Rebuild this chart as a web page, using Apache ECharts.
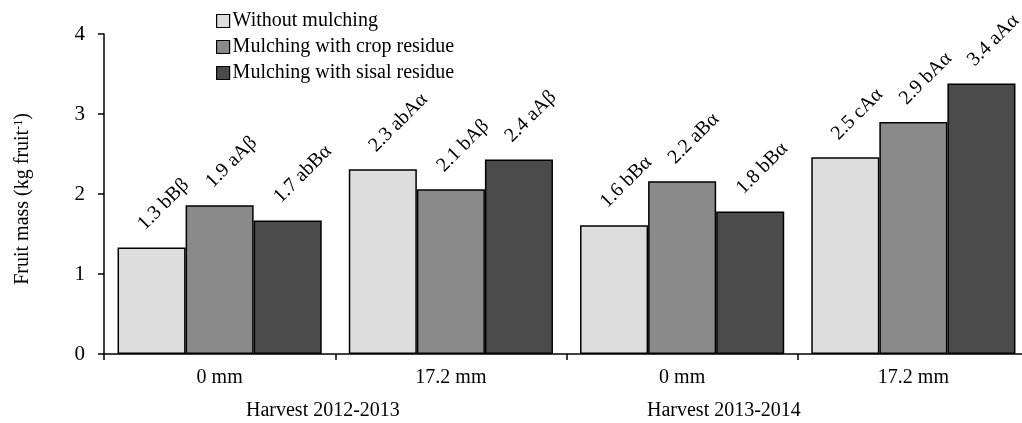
<!DOCTYPE html>
<html>
<head>
<meta charset="utf-8">
<script src="https://cdn.jsdelivr.net/npm/echarts@6/dist/echarts.min.js"></script>
<style>
  html, body { margin: 0; padding: 0; background: #fff; }
  #chart { width: 1022px; height: 423px; }
</style>
</head>
<body>
<div id="chart"></div>
<script>
// Irrigation depth within each harvest
const categories = ['0 mm', '17.2 mm', '0 mm', '17.2 mm'];
const harvests = ['Harvest 2012-2013', 'Harvest 2013-2014'];

const seriesNames = ['Without mulching', 'Mulching with crop residue', 'Mulching with sisal residue'];

// Mean fruit mass (kg fruit-1)
const withoutMulching = [1.33, 2.31, 1.61, 2.46];
const cropResidue = [1.86, 2.06, 2.16, 2.90];
const sisalResidue = [1.67, 2.43, 1.78, 3.38];

// Mean-comparison letters shown after each value
const withoutLetters = ['bBβ', 'abAα', 'bBα', 'cAα'];
const cropLetters = ['aAβ', 'bAβ', 'aBα', 'bAα'];
const sisalLetters = ['abBα', 'aAβ', 'bBα', 'aAα'];

const yTicks = [0, 1, 2, 3, 4];

const FONT = '"Liberation Serif", "Times New Roman", serif';
const fills = ['#dddddd', '#8a8a8a', '#4b4b4b'];

const chart = echarts.init(document.getElementById('chart'), null, { renderer: 'canvas' });

function barSeries(name, values, letters, color) {
  return {
    name: name,
    type: 'bar',
    data: values,
    barGap: '0%',
    barCategoryGap: '11.7%',
    itemStyle: { color: color, borderColor: '#000', borderWidth: 1.5 },
    label: {
      show: true,
      position: 'top',
      distance: 0,
      rotate: 45,
      align: 'left',
      verticalAlign: 'bottom',
      offset: [7, -12],
      fontFamily: FONT,
      fontSize: 20,
      color: '#000',
      formatter: p => values[p.dataIndex].toFixed(1) + ' ' + letters[p.dataIndex]
    },
    emphasis: { disabled: true },
    animation: false
  };
}

chart.setOption({
  animation: false,
  grid: { left: 104, right: -7, top: 34, bottom: 69, containLabel: false, outerBoundsMode: 'none' },
  legend: {
    orient: 'vertical',
    left: 216,
    top: 11,
    padding: 0,
    itemWidth: 13,
    itemHeight: 13,
    itemGap: 6,
    icon: 'rect',
    data: seriesNames,
    itemStyle: { borderColor: '#000', borderWidth: 1.2 },
    textStyle: { fontFamily: FONT, fontSize: 20, color: '#000', lineHeight: 20, padding: [0, 0, 0, -2] }
  },
  xAxis: {
    type: 'category',
    data: categories,
    axisLine: { show: true, lineStyle: { color: '#000', width: 1.5 } },
    axisTick: { show: true, length: 6, inside: false, lineStyle: { color: '#000', width: 1.5 } },
    axisLabel: { margin: 14, fontFamily: FONT, fontSize: 20, color: '#000' },
    splitLine: { show: false }
  },
  yAxis: {
    type: 'value',
    min: yTicks[0],
    max: yTicks[yTicks.length - 1],
    interval: 1,
    name: '{t|Fruit mass (kg fruit}{s|-1}{t|)}',
    nameLocation: 'middle',
    nameRotate: 90,
    nameGap: 71,
    nameTextStyle: {
      padding: [0, 10, 0, 0],
      rich: {
        t: { fontFamily: FONT, fontSize: 20, color: '#000' },
        s: { fontFamily: FONT, fontSize: 12, color: '#000', verticalAlign: 'top', padding: [0, 0, 8, 0] }
      }
    },
    axisLine: { show: true, lineStyle: { color: '#000', width: 1.5 } },
    axisTick: { show: true, length: 6, inside: false, lineStyle: { color: '#000', width: 1.5 } },
    axisLabel: { margin: 19, fontFamily: FONT, fontSize: 21, color: '#000' },
    splitLine: { show: false }
  },
  graphic: [
    {
      type: 'text', left: 246, top: 401,
      style: { text: harvests[0], fontFamily: FONT, fontSize: 20, fill: '#000' }
    },
    {
      type: 'text', left: 647, top: 401,
      style: { text: harvests[1], fontFamily: FONT, fontSize: 20, fill: '#000' }
    }
  ],
  series: [
    barSeries(seriesNames[0], withoutMulching, withoutLetters, fills[0]),
    barSeries(seriesNames[1], cropResidue, cropLetters, fills[1]),
    barSeries(seriesNames[2], sisalResidue, sisalLetters, fills[2])
  ]
});
</script>
</body>
</html>
